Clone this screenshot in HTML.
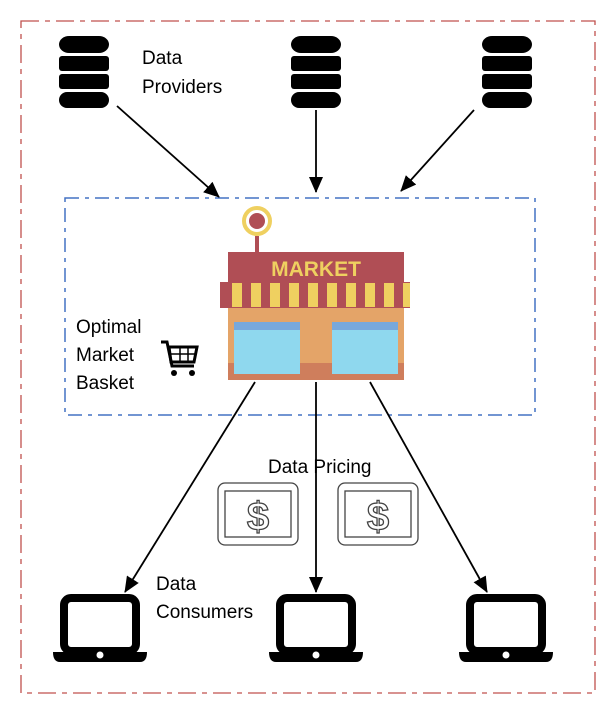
<!DOCTYPE html>
<html><head><style>body{margin:0;background:#fff}svg{display:block}text{font-family:"Liberation Sans",sans-serif;font-size:19px;fill:#000}</style></head>
<body>
<svg width="614" height="708" viewBox="0 0 614 708">
<defs>
<marker id="a" markerWidth="16" markerHeight="14" refX="15" refY="7" orient="auto" markerUnits="userSpaceOnUse" viewBox="0 0 16 14"><path d="M0,0L16,7L0,14z" fill="#000"/></marker>
<g id="db"><rect x="-25" y="0" width="50" height="17" rx="10" fill="#000"/><rect x="-25" y="20" width="50" height="15" rx="3" fill="#000"/><rect x="-25" y="38" width="50" height="15" rx="3" fill="#000"/><rect x="-25" y="56" width="50" height="16" rx="8" fill="#000"/></g>
<g id="lap"><rect x="-36" y="3" width="72" height="53" rx="7" fill="none" stroke="#000" stroke-width="8"/><path d="M-47,57H47Q47,67,40,67H-40Q-47,67,-47,57z" fill="#000"/><circle cx="0" cy="60" r="3.5" fill="#fff"/></g>
<g id="money"><rect x="0" y="0" width="80" height="62" rx="7" fill="none" stroke="#444" stroke-width="1.3"/><rect x="7" y="8" width="66" height="46" fill="none" stroke="#444" stroke-width="1.3"/><text x="40" y="47" text-anchor="middle" style="font-size:40px;fill:none;stroke:#444;stroke-width:1.3;font-weight:bold">$</text></g>
</defs>
<rect x="21" y="21" width="574" height="672" fill="none" stroke="#c0504d" stroke-width="1.3" stroke-dasharray="18,6,5,6"/>
<rect x="65" y="198" width="470" height="217" fill="none" stroke="#4472c4" stroke-width="1.5" stroke-dasharray="14,6,4,6"/>
<use href="#db" x="84" y="36"/><use href="#db" x="316" y="36"/><use href="#db" x="507" y="36"/>
<text x="142" y="64">Data</text><text x="142" y="93">Providers</text>
<g stroke="#000" stroke-width="1.8" marker-end="url(#a)">
<line x1="117" y1="106" x2="219" y2="197"/><line x1="316" y1="110" x2="316" y2="192"/><line x1="474" y1="110" x2="401" y2="191"/>
<line x1="255" y1="382" x2="125" y2="592"/><line x1="316" y1="382" x2="316" y2="592"/><line x1="370" y1="382" x2="487" y2="592"/>
</g>
<!-- market -->
<circle cx="257" cy="221" r="13" fill="#fff" stroke="#efd060" stroke-width="4"/><circle cx="257" cy="221" r="8" fill="#b04e55"/>
<rect x="255" y="236" width="4" height="16" fill="#b04e55"/>
<rect x="228" y="252" width="176" height="30" fill="#b04e55"/>
<text x="316" y="276" text-anchor="middle" style="font-size:21px;fill:#efd060;font-weight:bold">MARKET</text>
<rect x="220" y="282" width="190" height="26" fill="#b04e55"/>
<g fill="#efd060"><rect x="232" y="283" width="10" height="24"/><rect x="251" y="283" width="10" height="24"/><rect x="270" y="283" width="10" height="24"/><rect x="289" y="283" width="10" height="24"/><rect x="308" y="283" width="10" height="24"/><rect x="327" y="283" width="10" height="24"/><rect x="346" y="283" width="10" height="24"/><rect x="365" y="283" width="10" height="24"/><rect x="384" y="283" width="10" height="24"/><rect x="403" y="283" width="7" height="24"/></g>
<rect x="228" y="308" width="176" height="72" fill="#e4a468"/>
<rect x="228" y="363" width="176" height="17" fill="#cf7e5c"/>
<rect x="234" y="322" width="66" height="52" fill="#8fd8ee"/><rect x="234" y="322" width="66" height="8" fill="#78a8dc"/>
<rect x="332" y="322" width="66" height="52" fill="#8fd8ee"/><rect x="332" y="322" width="66" height="8" fill="#78a8dc"/>
<text x="76" y="333">Optimal</text><text x="76" y="361">Market</text><text x="76" y="389">Basket</text>
<!-- cart -->
<g fill="none" stroke="#000" stroke-width="3"><path d="M161,342h6l5,24h22"/><path d="M169,347h28l-3,15h-23z"/></g>
<g stroke="#000" stroke-width="1.5"><line x1="180" y1="347" x2="180" y2="362"/><line x1="188" y1="347" x2="188" y2="362"/><line x1="170" y1="354" x2="196" y2="354"/></g>
<circle cx="174" cy="373" r="3" fill="#000"/><circle cx="192" cy="373" r="3" fill="#000"/>
<text x="268" y="473">Data Pricing</text>
<use href="#money" x="218" y="483"/><use href="#money" x="338" y="483"/>
<text x="156" y="590">Data</text><text x="156" y="618">Consumers</text>
<use href="#lap" x="100" y="595"/><use href="#lap" x="316" y="595"/><use href="#lap" x="506" y="595"/>
</svg>
</body></html>
